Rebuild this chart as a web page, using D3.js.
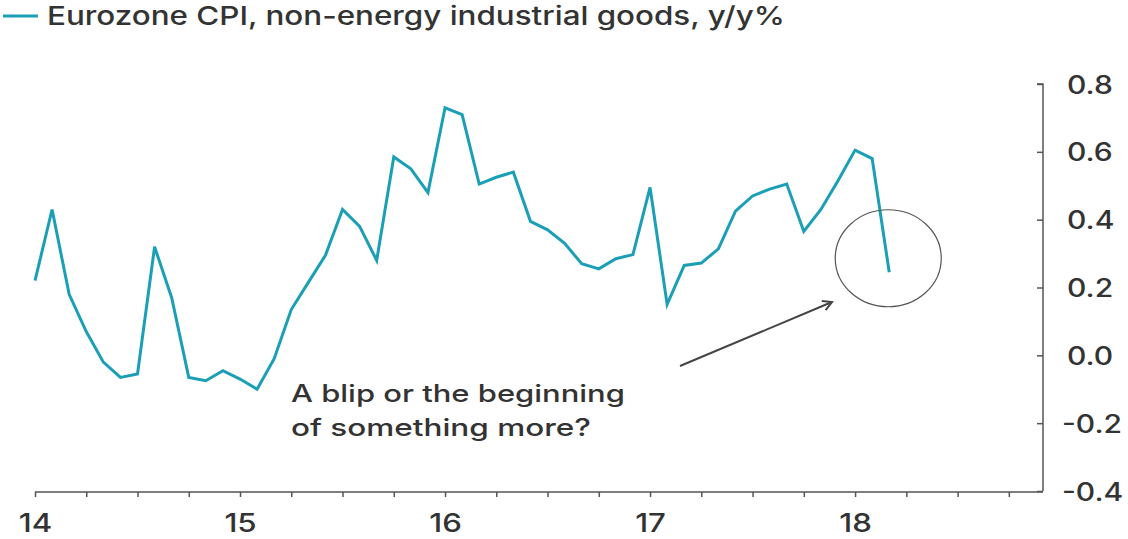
<!DOCTYPE html>
<html><head><meta charset="utf-8">
<script src="https://cdn.jsdelivr.net/npm/d3@7"></script>
<style>
html,body{margin:0;padding:0;background:#fff;}
svg{display:block;}
text{font-family:Inter,"Noto Sans",sans-serif;fill:#333;font-weight:500;}
</style></head>
<body>
<svg id="chart" width="1128" height="539"></svg>
<script>
// Monthly values, Jan 2014 .. Mar 2018
const months = d3.range(51); // month index from Jan 2014
const values = [
  0.22, 0.43, 0.18, 0.07, -0.02, -0.065, -0.055, 0.32, 0.17, -0.065, -0.075, -0.045,
  -0.07, -0.1, -0.01, 0.135, 0.215, 0.295, 0.43, 0.38, 0.28, 0.585, 0.55, 0.48,
  0.73, 0.71, 0.505, 0.525, 0.54, 0.395, 0.37, 0.33, 0.27, 0.255, 0.285, 0.297,
  0.495, 0.15, 0.265, 0.272, 0.314, 0.425, 0.47, 0.49, 0.505, 0.365, 0.43, 0.515,
  0.605, 0.58, 0.245
];
const yearTickLabels = ["14", "15", "16", "17", "18"];
const yTicks = [-0.4, -0.2, 0.0, 0.2, 0.4, 0.6, 0.8];
const seriesName = "Eurozone CPI, non-energy industrial goods, y/y%";
const annotationLines = ["A blip or the beginning", "of something more?"];

const svg = d3.select("#chart");
const x = d3.scaleLinear().domain([0, 59]).range([35, 1043]);
const y = d3.scaleLinear().domain([-0.4, 0.8]).range([491, 84]);
const teal = "#1b9fb6";
const axisCol = "#555";

// the reference face is wider than the available fonts: stretch glyphs horizontally
const SX = 1.2;
function placeStretched(sel, px, py, target) {
  sel.each(function() {
    const w = this.getComputedTextLength();
    const s = target ? target / w : SX;
    d3.select(this).attr("x", 0).attr("y", 0)
      .attr("transform", `translate(${px},${py}) scale(${s},1)`);
  });
}

// legend
svg.append("line").attr("x1", 3).attr("x2", 38).attr("y1", 16).attr("y2", 16)
  .attr("stroke", teal).attr("stroke-width", 3);
svg.append("text").attr("font-size", 26).text(seriesName)
  .call(placeStretched, 47, 25, 738);

// x axis
const xAxis = d3.axisBottom(x)
  .tickValues(d3.range(0, 58, 3))
  .tickSize(5)
  .tickFormat(d => d % 12 === 0 ? yearTickLabels[d / 12] : "");
const gx = svg.append("g").attr("transform", "translate(0,492)").call(xAxis);
gx.select(".domain").attr("stroke", axisCol).attr("stroke-width", 1.5)
  .attr("d", `M${x(0)},0H${x(59)}`);
gx.selectAll(".tick line").attr("stroke", axisCol).attr("stroke-width", 1.5);
gx.selectAll(".tick text").attr("font-size", 26).attr("dy", 0)
  .style("font-family", "Inter, sans-serif").style("font-weight", 500).attr("fill", "#333")
  .each(function() { d3.select(this).call(placeStretched, 0, 40, null); });

// y axis (right side, ticks inward)
const yAxis = d3.axisLeft(y).tickValues(yTicks).tickSize(6)
  .tickFormat(d => d3.format(".1f")(d).replace("−", "-"));
const gy = svg.append("g").attr("transform", "translate(1043,0)").call(yAxis);
gy.select(".domain").attr("stroke", axisCol).attr("stroke-width", 1.5)
  .attr("d", `M-6,${y(0.8)}H0V${y(-0.4)}`);
gy.selectAll(".tick line").attr("stroke", axisCol).attr("stroke-width", 1.5);
gy.selectAll(".tick text").attr("font-size", 25).attr("text-anchor", "start")
  .attr("dy", "0.36em").style("font-family", "Inter, sans-serif").style("font-weight", 500).attr("fill", "#333")
  .each(function(d) { d3.select(this).call(placeStretched, d < 0 ? 19 : 24, 0, null); });

// series line
const line = d3.line().x((d, i) => x(months[i])).y(d => y(d));
svg.append("path").datum(values).attr("d", line)
  .attr("fill", "none").attr("stroke", teal).attr("stroke-width", 3)
  .attr("stroke-linejoin", "miter");

// annotation ellipse around last point
const lastI = values.length - 1;
svg.append("ellipse").attr("cx", x(months[lastI]) - 1).attr("cy", y(values[lastI]) - 14)
  .attr("rx", 53).attr("ry", 48.5).attr("fill", "none").attr("stroke", "#555").attr("stroke-width", 1.2);

// arrow
svg.append("defs").append("marker").attr("id", "arr").attr("viewBox", "0 0 12 12")
  .attr("refX", 10).attr("refY", 6).attr("markerWidth", 12).attr("markerHeight", 12)
  .attr("markerUnits", "userSpaceOnUse").attr("orient", "auto")
  .append("path").attr("d", "M1,1L10,6L1,11").attr("fill", "none").attr("stroke", "#444").attr("stroke-width", 2);
svg.append("line").attr("x1", 680).attr("y1", 366).attr("x2", 832).attr("y2", 302)
  .attr("stroke", "#444").attr("stroke-width", 2).attr("marker-end", "url(#arr)");

// annotation text
const annTargets = [334, 300];
annotationLines.forEach((t, i) => {
  svg.append("text").attr("font-size", 24).text(t)
    .call(placeStretched, 291, 402 + i * 34, annTargets[i]);
});
</script>
</body></html>
